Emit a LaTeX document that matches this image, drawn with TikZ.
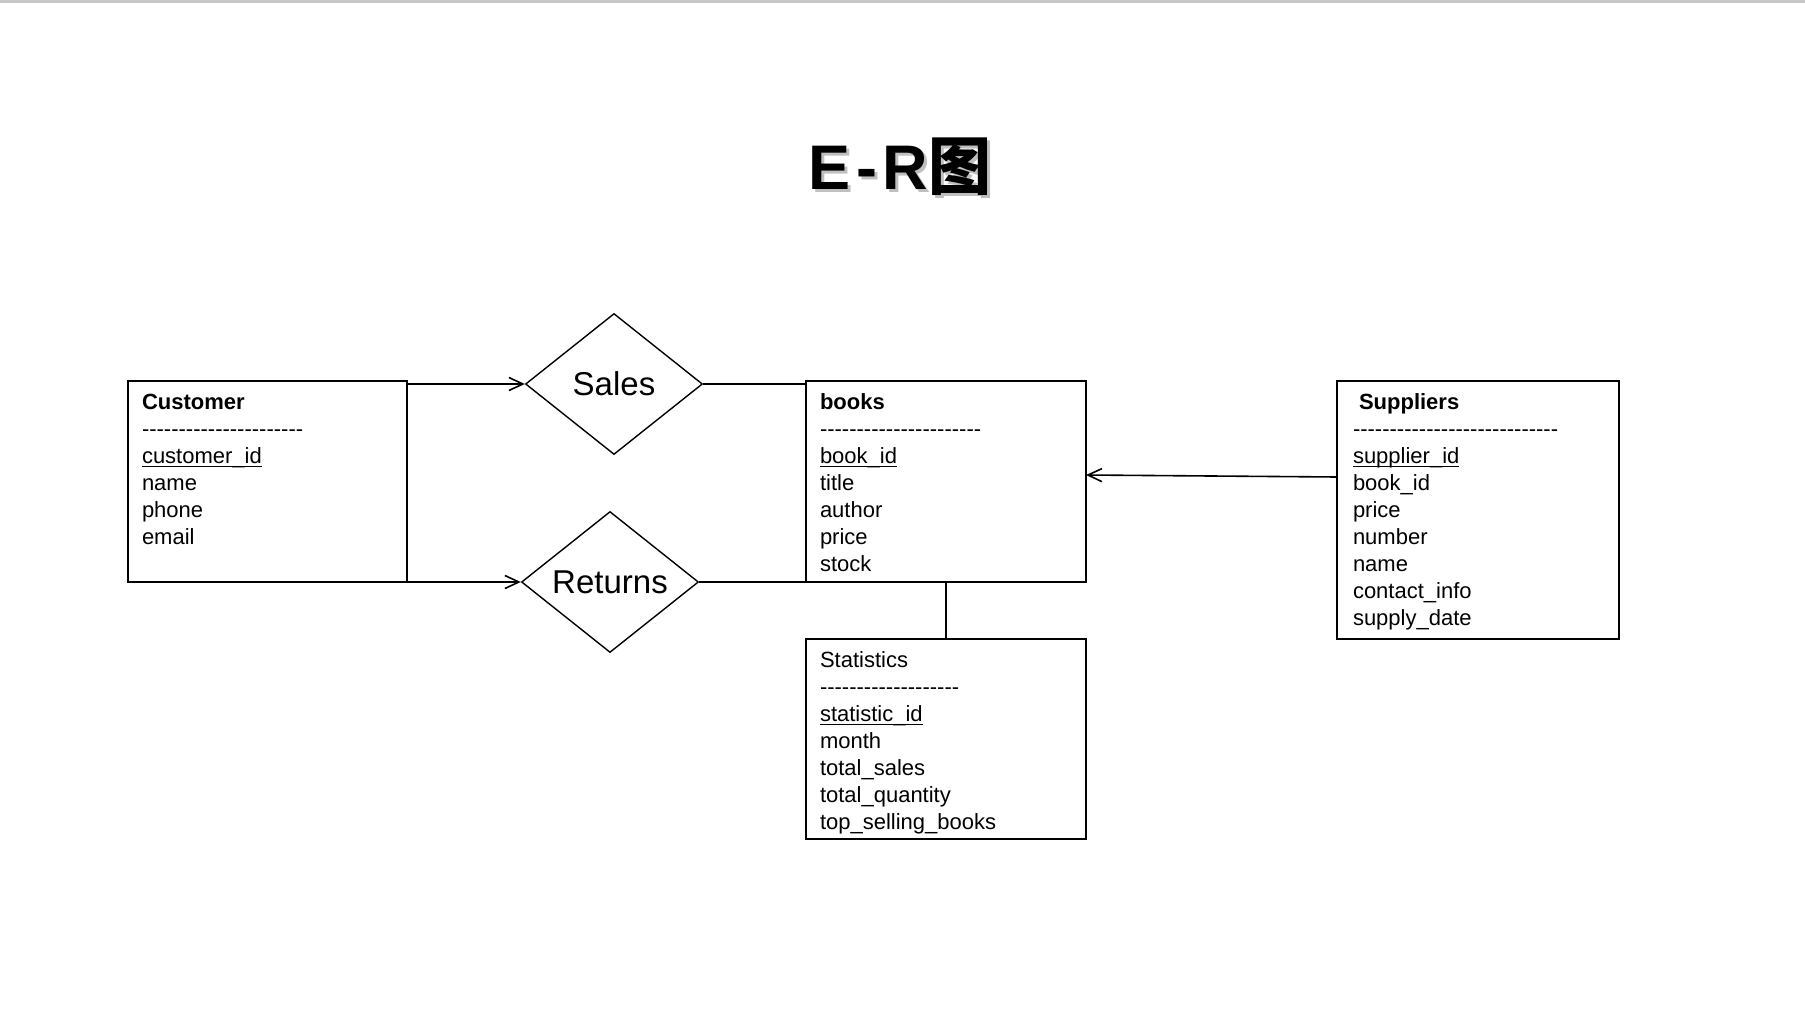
\documentclass[tikz,border=0pt]{standalone}
\usepackage{fontspec}
\setmainfont{Liberation Sans}
\newfontfamily\cjk{Noto Sans CJK SC}
\usepackage{tikz}
\usetikzlibrary{arrows.meta,shapes.geometric}

% entity text: first baseline 14pt below the top edge
\newcommand{\entity}[3]{\parbox[t][#2][t]{#1}{\raggedright\rule{0pt}{14pt}#3}}
\newcommand{\pkey}[1]{\leavevmode\setbox0=\hbox{#1}\rlap{\rule[-2.2pt]{\wd0}{0.6pt}}\box0}
\ExplSyntaxOn
\cs_new:Npn \dashrule #1 { \leavevmode \prg_replicate:nn {#1} { - \kern 0pt } }
\ExplSyntaxOff
\newcommand{\ertitle}{E\kern2.8pt-\kern2.8pt R{\cjk 图}}

\begin{document}
\begin{tikzpicture}[
  x=0.5pt, y=-0.5pt,
  ent/.style={draw, line width=1pt, anchor=north west, outer sep=0pt, inner xsep=7pt, inner ysep=0pt, font=\fontsize{11pt}{13.5pt}\selectfont},
  rel/.style={draw, diamond, aspect=1.255, inner sep=0pt, minimum width=88.5pt, minimum height=70.5pt, line width=0.7pt, font=\fontsize{16.5pt}{19pt}\selectfont},
  lnk/.style={line width=0.8pt},
  arr/.style={lnk, -{Straight Barb[length=7pt,width=6.5pt]}}
]
\useasboundingbox (0,0) rectangle (1805,1017);
\fill[black!22] (0,0) rectangle (1805,3);

% title
\node[anchor=base, font=\fontsize{31.5pt}{34pt}\selectfont\bfseries] (title) at (900,189)
  {\makebox[0pt][l]{\kern1.5pt\raisebox{-1.5pt}{\color{black!25}\ertitle}}\ertitle};

% entities
\node[ent] (cust) at (128,381) {\entity{125.5pt}{100.5pt}{\textbf{Customer}\\
  \dashrule{22}\\ \pkey{customer\_id}\\ name\\ phone\\ email}};
\node[ent] (books) at (806,381) {\entity{126pt}{100.5pt}{\textbf{books}\\
  \dashrule{22}\\ \pkey{book\_id}\\ title\\ author\\ price\\ stock}};
\node[ent, inner xsep=8pt] (sup) at (1337,381) {\entity{125pt}{129pt}{\hspace*{3pt}\textbf{Suppliers}\\
  \dashrule{28}\\ \pkey{supplier\_id}\\ book\_id\\ price\\ number\\ name\\ contact\_info\\ supply\_date}};
\node[ent] (stat) at (806,639) {\entity{126pt}{100pt}{Statistics\\
  \dashrule{19}\\ \pkey{statistic\_id}\\ month\\ total\_sales\\ total\_quantity\\ top\_selling\_books}};

% relationships
\node[rel] (sales) at (614,384) {Sales};
\node[rel] (ret) at (610,582) {Returns};

\draw[arr] (sales.west -| cust.east) -- (sales.west);
\draw[arr] (ret.west -| cust.east) -- (ret.west);
\draw[lnk] (sales.east) -- (sales.east -| books.west);
\draw[lnk] (ret.east) -- (ret.east -| books.west);
\draw[arr] ([yshift=-48pt]sup.north west) -- ([yshift=-47pt]books.north east);
\draw[lnk] (books.south) -- (stat.north);

\end{tikzpicture}
\end{document}
